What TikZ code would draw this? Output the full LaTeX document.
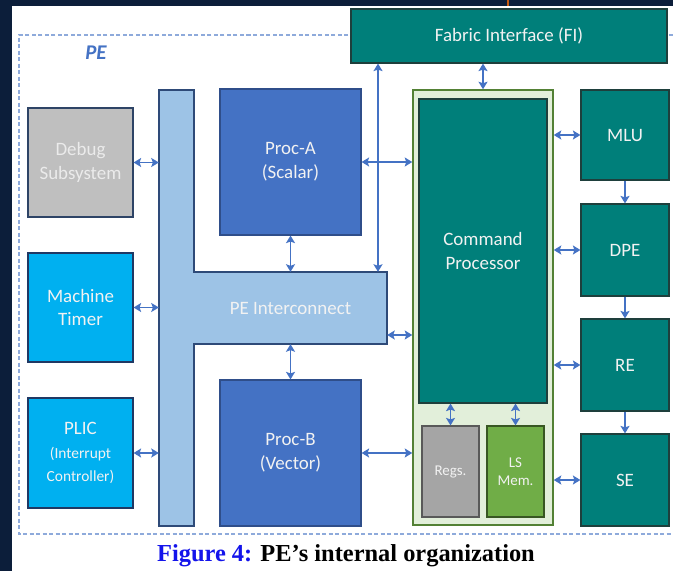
\documentclass[tikz,border=0pt]{standalone}
\usepackage{fontspec}
\usetikzlibrary{arrows.meta}
\newfontfamily\calib{Carlito}
\newfontfamily\tnr{Liberation Serif}
\definecolor{navy}{RGB}{12,30,58}
\definecolor{arrowblue}{HTML}{4472C4}
\definecolor{dashblue}{HTML}{8EAADB}
\definecolor{tealc}{HTML}{007F7A}
\definecolor{tealb}{HTML}{1E3F3C}
\definecolor{procc}{HTML}{4472C4}
\definecolor{procb}{HTML}{2F4E8A}
\definecolor{cyanc}{HTML}{00B0F0}
\definecolor{darkb}{HTML}{1F3864}
\definecolor{icfill}{HTML}{9DC3E6}
\definecolor{icline}{HTML}{2E4A78}
\definecolor{debugc}{HTML}{BFBFBF}
\definecolor{debugb}{HTML}{2E4466}
\definecolor{cpofill}{HTML}{E2EFDA}
\definecolor{cpoline}{HTML}{538135}
\definecolor{regsc}{HTML}{A5A5A5}
\definecolor{regsb}{HTML}{595959}
\definecolor{lsc}{HTML}{70AD47}
\definecolor{lsb}{HTML}{385723}
\definecolor{txtw}{HTML}{F2F2F2}
\definecolor{capblue}{RGB}{20,20,235}
\definecolor{tickc}{RGB}{197,90,17}
\definecolor{debugt}{RGB}{235,235,235}
\tikzset{
  box/.style={draw, line width=1.2bp, rectangle, inner sep=0pt, align=center,
    text=txtw, font=\calib\fontsize{19}{24}\selectfont},
  tealbox/.style={box, fill=tealc, draw=tealb},
  procbox/.style={box, fill=procc, draw=procb},
  cyanbox/.style={box, fill=cyanc, draw=darkb},
  dar/.style={{Stealth[length=7.5bp,width=9bp,inset=1.5bp]}-{Stealth[length=7.5bp,width=9bp,inset=1.5bp]}, line width=1.8bp, draw=arrowblue},
  sar/.style={-{Stealth[length=7.5bp,width=9bp,inset=1.5bp]}, line width=1.8bp, draw=arrowblue},
}
\begin{document}
\begin{tikzpicture}[x=1bp,y=-1bp]
\useasboundingbox (0,0) rectangle (673,571);
% background
\fill[navy] (0,0) rectangle (673,571);
\fill[white] (12,6) rectangle (673,571);
\draw[line width=1.5bp, draw=tickc] (508,0) -- (508,6);
% PE dashed boundary
\draw[dashblue, line width=1.2bp, dash pattern=on 4bp off 2.5bp] (673,35) -- (19,35) -- (19,534) -- (673,534);
\node[font=\calib\bfseries\itshape\fontsize{21}{24}\selectfont, text=arrowblue] (pe) at (96,53) {PE};

% left column
\node[box, fill=debugc, draw=debugb, text=debugt, minimum width=105bp, minimum height=109bp] (debug) at (80.5,162.5) {Debug\\Subsystem};
\node[cyanbox, minimum width=105bp, minimum height=109bp] (timer) at (80.5,307.5) {Machine\\Timer};
\node[cyanbox, minimum width=105bp, minimum height=110bp] (plic) at (80.5,453) {\fontsize{19}{22}\selectfont PLIC\\\fontsize{15.5}{23}\selectfont(Interrupt\\\fontsize{15.5}{23}\selectfont Controller)};

% interconnect
\filldraw[fill=icfill, draw=icline, line width=1.2bp] (159,90) -- (194,90) -- (194,272) -- (387,272) -- (387,344) -- (194,344) -- (194,526) -- (159,526) -- cycle;
\node[minimum width=35bp, minimum height=436bp, inner sep=0pt] (icbar) at (176.5,308) {};
\node[minimum width=193bp, minimum height=72bp, inner sep=0pt, text=txtw, font=\calib\fontsize{19}{24}\selectfont] (ichor) at (290.5,308) {PE Interconnect};

% processors
\node[procbox, minimum width=141bp, minimum height=146bp] (procA) at (290.5,162) {Proc-A\\(Scalar)};
\node[procbox, minimum width=141bp, minimum height=146bp] (procB) at (290.5,453) {Proc-B\\(Vector)};

% fabric interface
\node[tealbox, minimum width=316bp, minimum height=54bp] (fi) at (509,36) {Fabric Interface (FI)};

% command processor group
\node[draw=cpoline, fill=cpofill, line width=1.5bp, minimum width=140bp, minimum height=435bp, inner sep=0pt] (cpo) at (483,307.5) {};
\node[tealbox, minimum width=128bp, minimum height=304bp] (cpi) at (483,251) {Command\\Processor};
\node[box, fill=regsc, draw=regsb, font=\calib\fontsize{15}{18}\selectfont, minimum width=57bp, minimum height=91bp] (regs) at (450.5,471.5) {Regs.};
\node[box, fill=lsc, draw=lsb, font=\calib\fontsize{15}{18}\selectfont, minimum width=57bp, minimum height=91bp] (lsmem) at (515.5,471.5) {LS\\Mem.};

% engines
\node[tealbox, minimum width=88bp, minimum height=90bp] (mlu) at (625,135) {MLU};
\node[tealbox, minimum width=88bp, minimum height=92bp] (dpe) at (625,250) {DPE};
\node[tealbox, minimum width=88bp, minimum height=92bp] (re) at (625,365) {RE};
\node[tealbox, minimum width=88bp, minimum height=92bp] (se) at (625,480) {SE};

% connectors
\draw[dar] (debug.east) -- (debug.east -| icbar.west);
\draw[dar] (timer.east) -- (timer.east -| icbar.west);
\draw[dar] (plic.east) -- (plic.east -| icbar.west);
\draw[dar] (procA.south) -- (procA.south |- ichor.north);
\draw[dar] (procB.north) -- (procB.north |- ichor.south);
\draw[dar] (procA.east) -- (procA.east -| cpo.west);
\draw[dar] (procB.east) -- (procB.east -| cpo.west);
\coordinate (icr) at ([yshift=-27bp]ichor.east);
\draw[dar] (icr) -- (icr -| cpo.west);
\coordinate (vx) at (378,0);
\draw[dar] (vx |- fi.south) -- (vx |- ichor.north);
\draw[dar] (cpo.north) -- (cpo.north |- fi.south);
\draw[dar] (cpo.east |- mlu.west) -- (mlu.west);
\draw[dar] (cpo.east |- dpe.west) -- (dpe.west);
\draw[dar] (cpo.east |- re.west) -- (re.west);
\draw[dar] (cpo.east |- se.west) -- (se.west);
\draw[sar] (mlu.south) -- (dpe.north);
\draw[sar] (dpe.south) -- (re.north);
\draw[sar] (re.south) -- (se.north);
\draw[dar] (cpi.south -| regs.north) -- (regs.north);
\draw[dar] (cpi.south -| lsmem.north) -- (lsmem.north);

% caption
\node[font=\tnr\bfseries\fontsize{24.5}{28}\selectfont, text=black] (cap) at (346,556) {\textcolor{capblue}{Figure 4:} PE’s internal organization};
\end{tikzpicture}
\end{document}
